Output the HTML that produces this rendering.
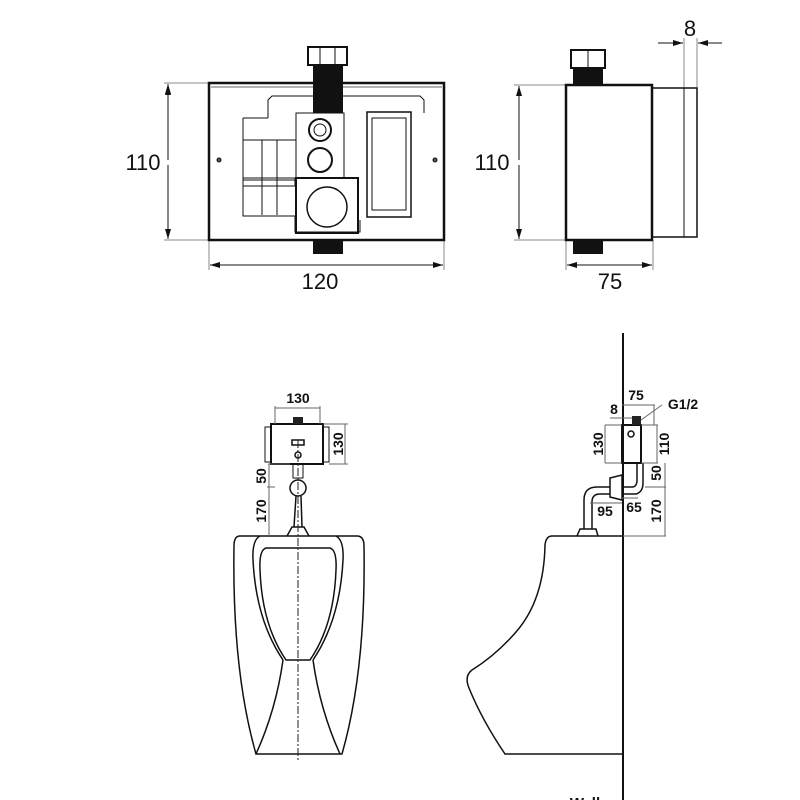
<!DOCTYPE html>
<html><head><meta charset="utf-8"><style>
html,body{margin:0;padding:0;background:#fff}
svg{display:block}
text{font-family:"Liberation Sans",sans-serif;fill:#111}
</style></head><body>
<svg width="800" height="800" viewBox="0 0 800 800" xmlns="http://www.w3.org/2000/svg">
<defs>
<marker id="ar" markerWidth="10" markerHeight="6" refX="10" refY="3" orient="auto" markerUnits="userSpaceOnUse">
<path d="M0,0 L10,3 L0,6 z" fill="#111"/></marker>
</defs>
<g fill="none" stroke="#111" stroke-width="1">
<!-- FRONT BOX -->
<line x1="164" y1="83" x2="209" y2="83" stroke="#888"/>
<line x1="164" y1="240" x2="209" y2="240" stroke="#888"/>
<line x1="168" y1="86" x2="168" y2="84" marker-end="url(#ar)"/>
<line x1="168" y1="160" x2="168" y2="85" marker-end="url(#ar)"/>
<line x1="168" y1="165" x2="168" y2="239" marker-end="url(#ar)"/>
<line x1="209" y1="240" x2="209" y2="270" stroke="#888"/>
<line x1="444" y1="240" x2="444" y2="270" stroke="#888"/>
<line x1="326" y1="265" x2="210" y2="265" marker-end="url(#ar)"/>
<line x1="326" y1="265" x2="443" y2="265" marker-end="url(#ar)"/>
<rect x="209" y="83" width="235" height="157" stroke-width="2.5"/>
<line x1="211" y1="87" x2="442" y2="87" stroke="#666"/>
<path d="M268 118 L268 100 L272 96 L420 96 L424 100 L424 113" stroke-width="1"/>
<path d="M243 118 L268 118 M243 118 L243 216 L295 216 L295 232 L360 232 L360 220" />
<rect x="243" y="140" width="53" height="40"/>
<line x1="262" y1="140" x2="262" y2="215"/><line x1="277" y1="140" x2="277" y2="215"/>
<rect x="243" y="178" width="52" height="8"/>
<rect x="296" y="113" width="48" height="65"/>
<circle cx="320" cy="130" r="11" stroke-width="2"/><circle cx="320" cy="130" r="6"/>
<circle cx="320" cy="160" r="12" stroke-width="2"/>
<rect x="296" y="178" width="62" height="55" stroke-width="2"/>
<circle cx="327" cy="207" r="20" stroke-width="1.5"/>
<rect x="367" y="112" width="44" height="105" stroke-width="1.5"/>
<rect x="372" y="118" width="34" height="92"/>
<circle cx="219" cy="160" r="2" fill="#555"/><circle cx="435" cy="160" r="2" fill="#555"/>
<!-- nuts/pipes -->
<rect x="308" y="47" width="39" height="18" stroke-width="2"/>
<line x1="320" y1="47" x2="320" y2="65"/><line x1="335" y1="47" x2="335" y2="65"/>
</g>
<rect x="313" y="65" width="30" height="48" fill="#111"/>
<rect x="313" y="240" width="30" height="14" fill="#111"/>
<text x="143" y="170" font-size="22" text-anchor="middle">110</text>
<text x="320" y="289" font-size="22" text-anchor="middle">120</text>

<!-- SIDE BOX -->
<g fill="none" stroke="#111" stroke-width="1">
<line x1="514" y1="85" x2="566" y2="85" stroke="#888"/>
<line x1="514" y1="240" x2="566" y2="240" stroke="#888"/>
<line x1="519" y1="160" x2="519" y2="86" marker-end="url(#ar)"/>
<line x1="519" y1="165" x2="519" y2="239" marker-end="url(#ar)"/>
<line x1="566" y1="240" x2="566" y2="270" stroke="#888"/>
<line x1="653" y1="240" x2="653" y2="270" stroke="#888"/>
<line x1="610" y1="265" x2="567" y2="265" marker-end="url(#ar)"/>
<line x1="610" y1="265" x2="652" y2="265" marker-end="url(#ar)"/>
<line x1="684" y1="88" x2="684" y2="38" stroke="#888"/>
<line x1="697" y1="88" x2="697" y2="38" stroke="#888"/>
<line x1="658" y1="43" x2="683" y2="43" marker-end="url(#ar)"/>
<line x1="722" y1="43" x2="698" y2="43" marker-end="url(#ar)"/>
<rect x="566" y="85" width="86" height="155" stroke-width="2.5"/>
<rect x="652" y="88" width="45" height="149" stroke-width="1.5"/>
<line x1="684" y1="88" x2="684" y2="237"/>
<rect x="571" y="50" width="34" height="18" stroke-width="2"/>
<line x1="588" y1="50" x2="588" y2="68"/>
</g>
<rect x="573" y="68" width="30" height="17" fill="#111"/>
<rect x="573" y="240" width="30" height="14" fill="#111"/>
<text x="492" y="170" font-size="22" text-anchor="middle">110</text>
<text x="610" y="289" font-size="22" text-anchor="middle">75</text>
<text x="690" y="36" font-size="22" text-anchor="middle">8</text>

<!-- WALL -->
<line x1="623" y1="333" x2="623" y2="800" stroke="#111" stroke-width="2"/>
<text x="585" y="808" font-size="15" font-weight="bold" text-anchor="middle">Wall</text>

<!-- FRONT URINAL -->
<g fill="none" stroke="#111" stroke-width="1.5">
<path d="M240 536 L357 536 Q364 536 364 546 Q366 670 342 754 L256 754 Q232 670 234 546 Q234 536 240 536 Z"/>
<path d="M260 536 Q252 540 253 560 Q256 620 283 660 M336 536 Q344 540 343 560 Q340 620 313 660"/>
<path d="M266 548 Q259 550 260 570 Q262 625 286 660 L310 660 Q334 625 336 570 Q337 550 330 548 Z"/>
<path d="M283 660 Q276 710 256 754 M313 660 Q320 710 340 754"/>
<path d="M287 536 L292 527 L304 527 L309 536"/>
<line x1="296" y1="496" x2="294" y2="527"/><line x1="301" y1="496" x2="302" y2="527"/>
<circle cx="298" cy="488" r="8"/>
<rect x="293" y="464" width="10" height="14" stroke-width="1"/>
<rect x="271" y="424" width="52" height="40" stroke-width="2"/>
<rect x="265" y="427" width="6" height="35" stroke-width="1"/>
<rect x="323" y="427" width="6" height="35" stroke-width="1"/>
<rect x="292" y="440" width="12" height="5" stroke-width="1.5"/>
<circle cx="298" cy="455" r="3" stroke-width="1.5"/>
</g>
<rect x="293" y="417" width="10" height="7" fill="#222"/>
<line x1="298" y1="440" x2="298" y2="762" stroke="#222" stroke-width="1" stroke-dasharray="8,2,2,2"/>
<g stroke="#666" stroke-width="1" fill="none">
<line x1="275" y1="424" x2="275" y2="406"/><line x1="320" y1="424" x2="320" y2="406"/>
<line x1="275" y1="408" x2="320" y2="408"/>
<line x1="323" y1="424" x2="348" y2="424"/><line x1="329" y1="464" x2="348" y2="464"/>
<line x1="345" y1="424" x2="345" y2="464"/>
<line x1="268" y1="464" x2="290" y2="464"/><line x1="269" y1="464" x2="269" y2="536"/>
<line x1="267" y1="487" x2="275" y2="487"/>
</g>
<text x="298" y="403" font-size="14" font-weight="bold" text-anchor="middle">130</text>
<text transform="translate(343,444) rotate(-90)" font-size="14" font-weight="bold" text-anchor="middle">130</text>
<text transform="translate(266,476) rotate(-90)" font-size="14" font-weight="bold" text-anchor="middle">50</text>
<text transform="translate(266,511) rotate(-90)" font-size="14" font-weight="bold" text-anchor="middle">170</text>

<!-- SIDE URINAL -->
<g fill="none" stroke="#111" stroke-width="1.5">
<path d="M623 536 L552 536 Q546 536 545 545 Q544 600 516 632 Q496 655 472 670 Q464 676 469 688 Q482 720 505 754 L623 754"/>
<path d="M577 536 L580 529 L596 529 L598 536"/>
<path d="M584 529 L584 500 Q584 487 597 487 L610 487 M592 529 L592 502 Q592 494 600 494 L610 494"/>
<path d="M610 478 L622 475 L622 500 L610 497 Z"/>
<path d="M622 487 L633 487 Q637 486 637 480 L637 463 M622 494 L636 494 Q643 492 643 483 L643 463"/>
<rect x="622" y="425" width="19" height="38" stroke-width="2"/>
<circle cx="631" cy="434" r="3"/>
</g>
<rect x="632" y="416" width="9" height="9" fill="#222"/>
<g stroke="#666" stroke-width="1" fill="none">
<line x1="605" y1="425" x2="622" y2="425"/><line x1="605" y1="463" x2="622" y2="463"/>
<line x1="605" y1="425" x2="605" y2="463"/>
<line x1="641" y1="425" x2="658" y2="425"/><line x1="641" y1="463" x2="658" y2="463"/>
<line x1="657" y1="425" x2="657" y2="463"/>
<line x1="622" y1="405" x2="655" y2="405"/><line x1="654" y1="405" x2="654" y2="425"/>
<line x1="610" y1="418" x2="632" y2="418"/>
<line x1="641" y1="420" x2="662" y2="405"/>
<line x1="645" y1="487" x2="666" y2="487"/><line x1="665" y1="463" x2="665" y2="536"/>
<line x1="623" y1="536" x2="666" y2="536"/>
<line x1="622" y1="498" x2="638" y2="498"/>
<line x1="590" y1="503" x2="622" y2="503"/>
</g>
<text x="636" y="400" font-size="14" font-weight="bold" text-anchor="middle">75</text>
<text x="614" y="414" font-size="14" font-weight="bold" text-anchor="middle">8</text>
<text x="683" y="409" font-size="14" font-weight="bold" text-anchor="middle">G1/2</text>
<text transform="translate(603,444) rotate(-90)" font-size="14" font-weight="bold" text-anchor="middle">130</text>
<text transform="translate(669,444) rotate(-90)" font-size="14" font-weight="bold" text-anchor="middle">110</text>
<text transform="translate(661,473) rotate(-90)" font-size="14" font-weight="bold" text-anchor="middle">50</text>
<text transform="translate(661,511) rotate(-90)" font-size="14" font-weight="bold" text-anchor="middle">170</text>
<text x="605" y="516" font-size="14" font-weight="bold" text-anchor="middle">95</text>
<text x="634" y="512" font-size="14" font-weight="bold" text-anchor="middle">65</text>
</svg>
</body></html>
